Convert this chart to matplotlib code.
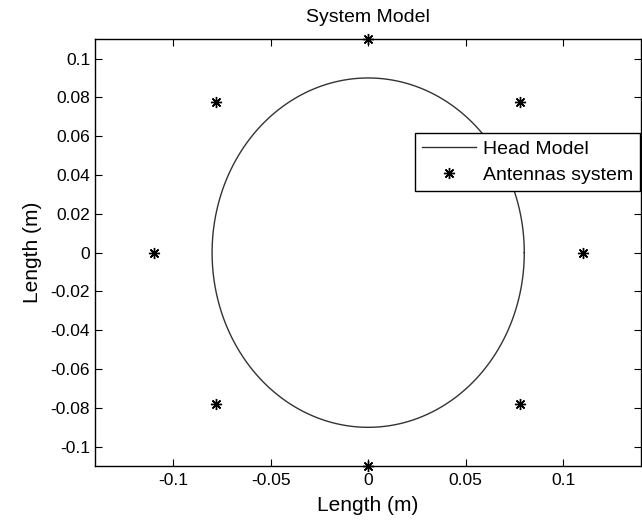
import numpy as np
import matplotlib.pyplot as plt

plt.rcParams['font.family'] = ['Liberation Sans', 'DejaVu Sans']

# head model: ellipse semi-axes (m)
head_a = 0.08
head_b = 0.09

# antenna positions (m)
ant_x = [0.0, 0.0778, 0.11, 0.0778, 0.0, -0.0778, -0.11, -0.0778]
ant_y = [0.11, 0.0778, 0.0, -0.0778, -0.11, -0.0778, 0.0, 0.0778]

xticks = [-0.1, -0.05, 0, 0.05, 0.1]
xtick_labels = ['-0.1', '-0.05', '0', '0.05', '0.1']
yticks = [-0.1, -0.08, -0.06, -0.04, -0.02, 0, 0.02, 0.04, 0.06, 0.08, 0.1]
ytick_labels = ['-0.1', '-0.08', '-0.06', '-0.04', '-0.02', '0',
                '0.02', '0.04', '0.06', '0.08', '0.1']

fig = plt.figure(figsize=(6.42, 5.22), dpi=100)
ax = fig.add_axes([0.148, 0.107, 0.851, 0.818])

t = np.linspace(0, 2 * np.pi, 400)
ax.plot(head_a * np.cos(t), head_b * np.sin(t), color='#333333', linewidth=1.0, label='Head Model')
ax.plot(ant_x, ant_y, linestyle='none', marker=(8, 2, 0), color='black', markersize=8,
        markeredgewidth=1.0, label='Antennas system', clip_on=False)

ax.set_xlim(-0.14, 0.14)
ax.set_ylim(-0.11, 0.11)
ax.set_xticks(xticks)
ax.set_xticklabels(xtick_labels)
ax.set_yticks(yticks)
ax.set_yticklabels(ytick_labels)
ax.tick_params(direction='in', top=True, right=True, labelsize=12.5, length=5)
ax.tick_params(axis='x', pad=5)
for s in ax.spines.values():
    s.set_linewidth(1.0)

ax.set_title('System Model', fontsize=14, pad=12)
ax.set_xlabel('Length (m)', fontsize=15, labelpad=6)
ax.set_ylabel('Length (m)', fontsize=15, labelpad=6)

leg = ax.legend(loc='upper left', bbox_to_anchor=(0.586, 0.78), fontsize=14,
                frameon=True, fancybox=False, edgecolor='black', framealpha=1,
                borderpad=0.35, handlelength=2.8, handletextpad=0.35,
                labelspacing=0.45, borderaxespad=0)
leg.get_frame().set_linewidth(1.0)

fig.savefig('out.png', dpi=100)
